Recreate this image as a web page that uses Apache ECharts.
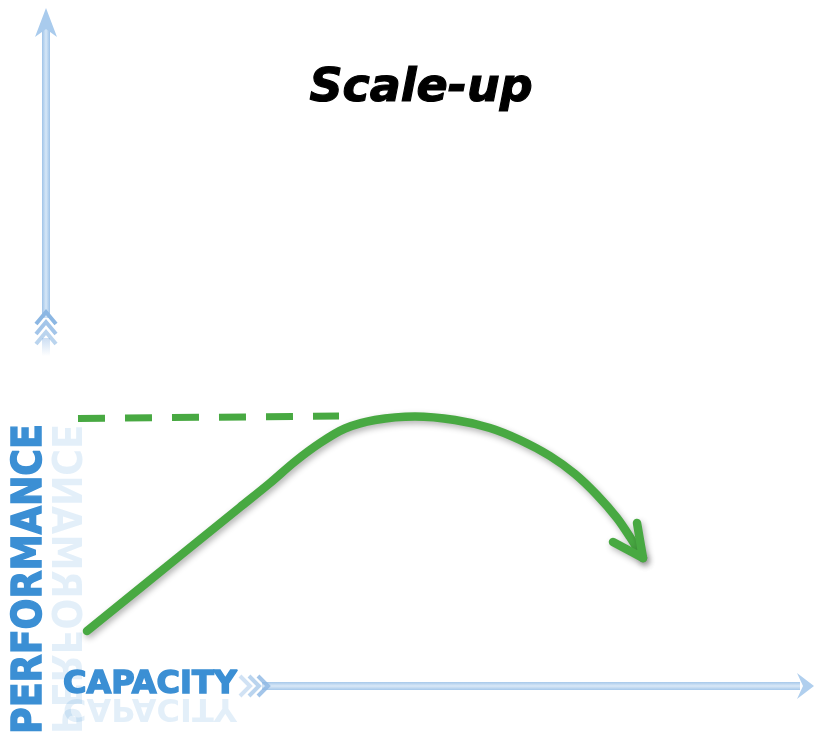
<!DOCTYPE html>
<html><head><meta charset="utf-8">
<script src="https://cdn.jsdelivr.net/npm/echarts@6/dist/echarts.min.js"></script>
<style>html,body{margin:0;padding:0;background:#fff}#c{width:815px;height:736px}</style>
</head><body><div id="c"></div>
<script>
// Performance curve (capacity, performance)
const curveCapacity    = [87, 180, 240, 270, 295, 320, 345, 375, 415, 455, 490, 520, 550, 575, 597, 617, 630, 643];
const curvePerformance = [105, 180.2, 228.7, 253, 274.5, 293, 307.5, 316, 319.5, 316, 308, 296, 280, 262, 241, 218, 199, 178];
// Arrowhead at end of curve
const headCapacity    = [637, 643, 613];
const headPerformance = [213, 178, 194];
// Dashed "peak" reference line
const peakCapacity    = [78, 339];
const peakPerformance = [317.5, 320];

const titleText = 'Scale-up';
const yLabel = 'PERFORMANCE';
const xLabel = 'CAPACITY';

const zip = (a, b) => a.map((v, i) => [v, b[i]]);
const green = '#48a942';
const blueText = '#3b8fd4';
const reflColor = 'rgba(59,143,212,0.14)';

const chart = echarts.init(document.getElementById('c'));
const G = echarts.graphic;
const vGrad = new G.LinearGradient(0, 0, 1, 0, [
  {offset: 0, color: '#9fc3e8'}, {offset: 0.5, color: '#d6e7f7'}, {offset: 1, color: '#9fc3e8'}]);
const hGrad = new G.LinearGradient(0, 0, 0, 1, [
  {offset: 0, color: '#a6c8ea'}, {offset: 0.5, color: '#d9e8f7'}, {offset: 1, color: '#a6c8ea'}]);
const vTail = new G.LinearGradient(0, 0, 0, 1, [
  {offset: 0, color: 'rgba(170,200,235,0.6)'}, {offset: 1, color: 'rgba(170,200,235,0)'}]);

const graphics = [
  // vertical arrow
  {type: 'rect', shape: {x: 42, y: 28, width: 8, height: 290}, style: {fill: vGrad}},
  {type: 'polygon', shape: {points: [[46, 8], [57, 37], [46, 29], [35, 37]]}, style: {fill: '#a9cbed'}},
  {type: 'rect', shape: {x: 42, y: 338, width: 8, height: 18}, style: {fill: vTail}},
  // horizontal arrow
  {type: 'rect', shape: {x: 262, y: 682, width: 538, height: 8}, style: {fill: hGrad}},
  {type: 'polygon', shape: {points: [[797, 673], [814, 686], [797, 699], [803, 686]]}, style: {fill: '#b0cfee'}},
];
for (let i = 0; i < 3; i++) {
  graphics.push({type: 'polyline', shape: {points: [[36, 324 + 10 * i], [46, 312 + 10 * i], [56, 324 + 10 * i]]},
    style: {stroke: '#8cb7e3', lineWidth: 4, fill: null, opacity: 1 - 0.2 * i}});
  graphics.push({type: 'polyline', shape: {points: [[240 + 9 * i, 676], [250 + 9 * i, 686], [240 + 9 * i, 696]]},
    style: {stroke: '#8cb7e3', lineWidth: 4, fill: null, opacity: 0.4 + 0.2 * i}});
}
// Title
graphics.push({type: 'text', x: 421, y: 89, style: {text: titleText, fill: '#000', stroke: '#000', lineWidth: 1.2,
  font: 'italic bold 46px "DejaVu Sans"', align: 'center', verticalAlign: 'middle'}});
// Y label + reflection
graphics.push({type: 'text', x: 62, y: 579, rotation: Math.PI / 2, scaleX: 0.91, scaleY: -1,
  style: {text: yLabel, fill: reflColor, font: 'bold 40px "DejaVu Sans"', align: 'center', verticalAlign: 'middle'}});
graphics.push({type: 'text', x: 31, y: 579, rotation: Math.PI / 2, scaleX: 0.91,
  style: {text: yLabel, fill: blueText, stroke: blueText, lineWidth: 1.5, font: 'bold 40px "DejaVu Sans"', align: 'center', verticalAlign: 'middle'}});
// X label + reflection
graphics.push({type: 'text', x: 150, y: 707, scaleX: 1.0, scaleY: -1,
  style: {text: xLabel, fill: reflColor, font: 'bold 32px "DejaVu Sans"', align: 'center', verticalAlign: 'middle'}});
graphics.push({type: 'text', x: 150, y: 685, scaleX: 1.0,
  style: {text: xLabel, fill: blueText, stroke: blueText, lineWidth: 1.5, font: 'bold 32px "DejaVu Sans"', align: 'center', verticalAlign: 'middle'}});

chart.setOption({
  animation: false,
  backgroundColor: '#fff',
  grid: {left: 0, right: 0, top: 0, bottom: 0},
  xAxis: {type: 'value', min: 0, max: 815, show: false},
  yAxis: {type: 'value', min: 0, max: 736, show: false},
  graphic: graphics,
  series: [
    {type: 'line', data: zip(peakCapacity, peakPerformance), symbol: 'none',
      lineStyle: {color: green, width: 7, type: [27, 20], cap: 'butt'}},
    {type: 'line', data: zip(curveCapacity, curvePerformance), symbol: 'none', smooth: 0.3,
      lineStyle: {color: green, width: 8.5, cap: 'round', join: 'round',
        shadowColor: 'rgba(0,0,0,0.3)', shadowBlur: 6, shadowOffsetX: 2, shadowOffsetY: 3}},
    {type: 'line', data: zip(headCapacity, headPerformance), symbol: 'none',
      lineStyle: {color: green, width: 8.5, cap: 'round', join: 'round',
        shadowColor: 'rgba(0,0,0,0.3)', shadowBlur: 6, shadowOffsetX: 2, shadowOffsetY: 3}}
  ]
});
</script></body></html>
